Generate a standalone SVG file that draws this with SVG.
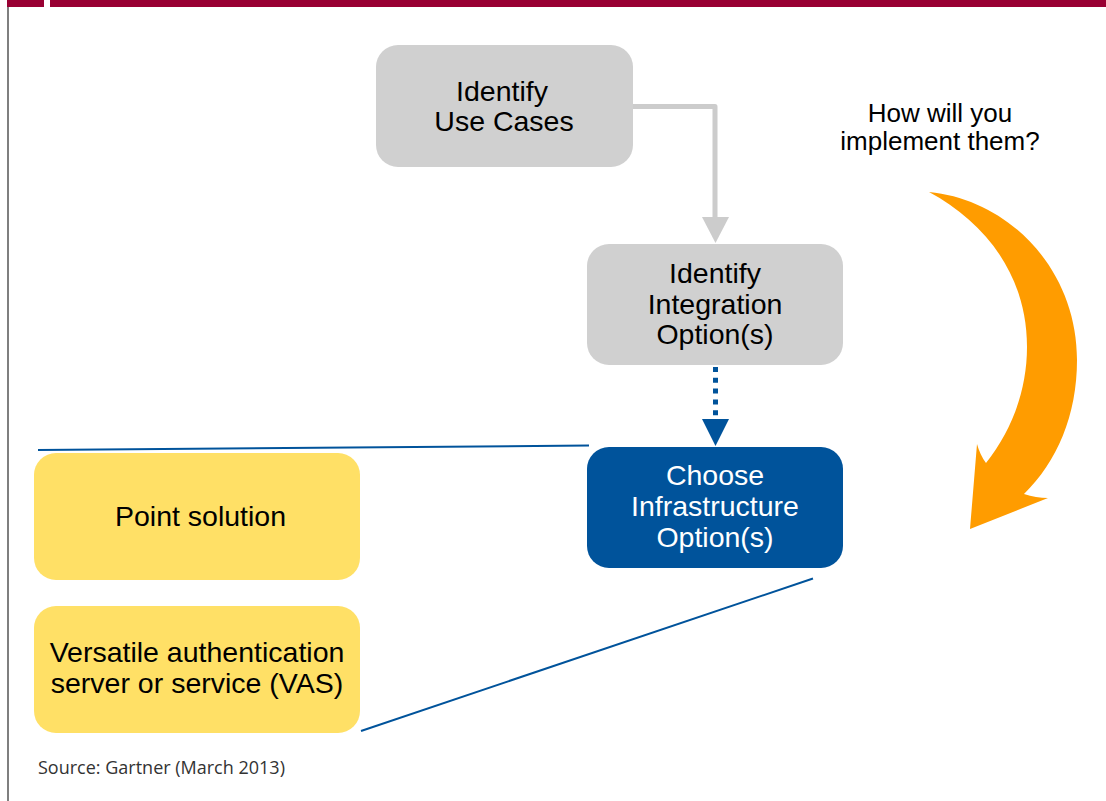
<svg xmlns="http://www.w3.org/2000/svg" width="1106" height="801" viewBox="0 0 1106 801">
  <style>
    .lbl { font-family: "Liberation Sans", Arial, sans-serif; font-size: 28.5px; text-anchor: middle; }
    .dark { fill: #000000; }
    .light { fill: #ffffff; }
    .grey { fill: #d0d0d0; }
    .yellow { fill: #ffe066; }
    .blue { fill: #00539b; }
    .note { font-family: "Liberation Sans", Arial, sans-serif; font-size: 26px; text-anchor: middle; fill: #000000; }
    .src { font-family: "Open Sans", "Liberation Sans", sans-serif; font-size: 18px; fill: #333333; }
  </style>

  <rect width="1106" height="801" fill="#ffffff"/>

  <!-- page frame: header bar and left rule -->
  <g id="frame">
    <rect x="7" y="0" width="37" height="7" fill="#990033"/>
    <rect x="50" y="0" width="1056" height="7" fill="#990033"/>
    <line x1="8" y1="7" x2="8" y2="801" stroke="#555555" stroke-width="1.5"/>
  </g>

  <!-- connectors -->
  <g id="connectors">
    <polyline points="633,106.5 715,106.5 715,218" fill="none" stroke="#cccccc" stroke-width="5" stroke-linejoin="round"/>
    <polygon points="702,217 729,217 715.5,243" fill="#cccccc"/>
    <line x1="715.5" y1="367" x2="715.5" y2="417" stroke="#00539b" stroke-width="5" stroke-dasharray="5 5.8"/>
    <polygon points="702,419 729,419 715.5,446" fill="#00539b"/>
    <line x1="38" y1="450" x2="589" y2="445.5" stroke="#00539b" stroke-width="2"/>
    <line x1="361" y1="731" x2="813" y2="578.5" stroke="#00539b" stroke-width="2"/>
  </g>

  <g id="use-cases">
    <rect x="376" y="45" width="257" height="122" rx="22" class="grey"/>
    <text class="lbl dark" x="502" y="101">Identify</text>
    <text class="lbl dark" x="504" y="131">Use Cases</text>
  </g>

  <g id="integration">
    <rect x="587" y="244" width="256" height="121" rx="22" class="grey"/>
    <text class="lbl dark" x="715" y="283">Identify</text>
    <text class="lbl dark" x="715" y="314">Integration</text>
    <text class="lbl dark" x="715" y="344">Option(s)</text>
  </g>

  <g id="infrastructure">
    <rect x="587" y="447" width="256" height="121" rx="22" class="blue"/>
    <text class="lbl light" x="715" y="485">Choose</text>
    <text class="lbl light" x="715" y="516">Infrastructure</text>
    <text class="lbl light" x="715" y="547">Option(s)</text>
  </g>

  <g id="point-solution">
    <rect x="34" y="453" width="326" height="127" rx="22" class="yellow"/>
    <text class="lbl dark" x="200.5" y="526">Point solution</text>
  </g>

  <g id="vas">
    <rect x="34" y="606" width="326" height="127" rx="22" class="yellow"/>
    <text class="lbl dark" x="197" y="662">Versatile authentication</text>
    <text class="lbl dark" x="197" y="693">server or service (VAS)</text>
  </g>

  <g id="question">
    <text class="note" x="940" y="122">How will you</text>
    <text class="note" x="940" y="150">implement them?</text>
    <path d="M929,192 C1010,200 1077,270 1077,360 C1077,415 1057,462 1024,494 Q1036,498 1048,498 L970,529 L977,444 Q980,455 986,463 C1012,430 1027,390 1027,347 C1027,275 985,222 929,192 Z" fill="#ff9c00"/>
  </g>

  <text class="src" x="38" y="774">Source: Gartner (March 2013)</text>
</svg>
